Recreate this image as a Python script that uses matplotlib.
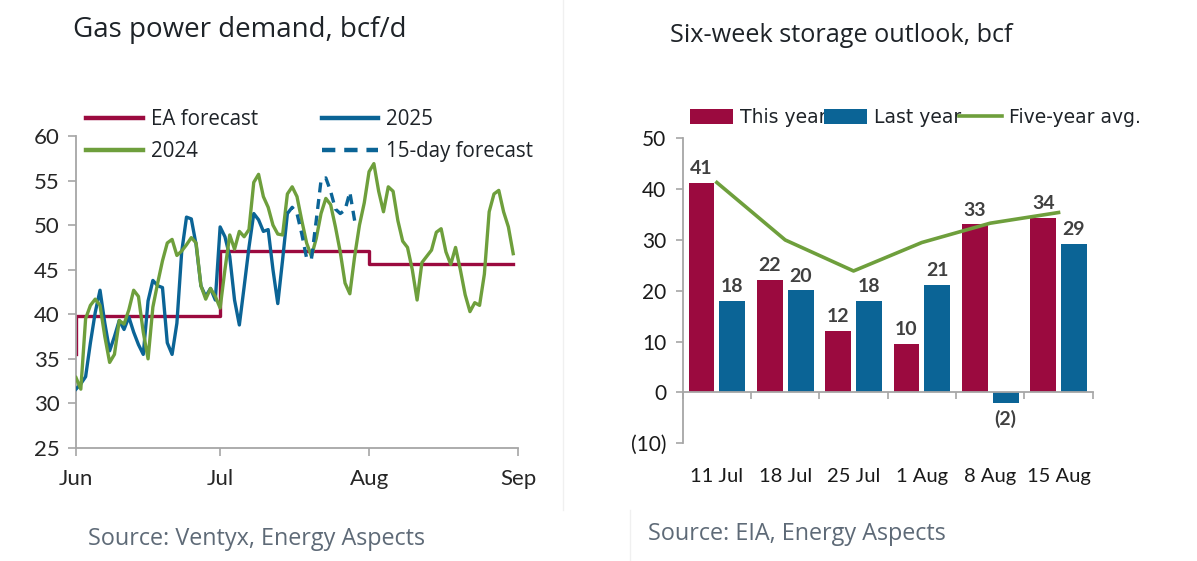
import matplotlib
matplotlib.use("Agg")
import matplotlib.pyplot as plt
import matplotlib.dates as mdates
import matplotlib.transforms as mtransforms
from matplotlib.ticker import FuncFormatter, FixedLocator
import numpy as np
import pandas as pd

# ---------------- data: left chart (bcf/d) ----------------
demand_2024 = [
    32.9, 31.6, 39.5, 41.0, 41.7, 41.0, 37.5, 34.6, 35.5, 39.3,
    38.9, 40.5, 42.7, 42.0, 38.0, 35.0, 40.8, 43.5, 46.0, 48.0,
    48.4, 46.6, 47.1, 47.8, 48.6, 48.0, 43.2, 41.7, 42.9, 42.0,
    40.7, 45.0, 48.9, 47.3, 49.3, 48.7, 49.5, 54.8, 55.7, 53.2,
    52.0, 50.0, 49.0, 48.9, 53.5, 54.3, 53.2, 50.5, 48.0, 46.5,
    48.5, 51.3, 53.0, 52.3, 49.8, 47.0, 43.5, 42.3, 46.5, 50.0,
    52.5, 56.0, 56.9, 53.8, 51.5, 54.3, 53.8, 50.5, 48.2, 47.5,
    45.0, 41.6, 45.8, 46.5, 47.2, 49.2, 49.6, 47.0, 45.6, 47.5,
    45.0, 42.2, 40.3, 41.3, 41.0, 44.5, 51.5, 53.5, 53.9, 51.5,
    49.8, 46.8,
]
demand_2025 = [
    31.6, 32.2, 33.0, 36.8, 40.2, 42.7, 39.0, 35.9, 37.5, 39.3,
    38.3, 39.7, 38.0, 36.6, 35.5, 41.5, 43.8, 43.2, 43.0, 36.8,
    35.5, 39.0, 47.0, 50.9, 50.7, 47.8, 43.2, 42.0, 42.9, 41.6,
    49.8, 48.7, 46.5, 41.6, 38.8, 43.1, 47.5, 51.3, 50.6, 49.3,
    49.5, 45.0, 41.2, 46.1, 51.3,
]
forecast_15day = [
    51.3, 52.0, 51.3, 49.0, 46.3, 46.2, 50.5, 55.0, 55.3, 53.8,
    51.8, 51.3, 51.7, 53.7, 50.5,
]
forecast_start = "2025-07-15"
ea_dates = ["2025-06-01", "2025-06-01", "2025-07-01", "2025-08-01", "2025-08-31"]
ea_values = [35.5, 39.8, 47.1, 45.6, 45.6]
left_yticks = [25, 30, 35, 40, 45, 50, 55, 60]

# ---------------- data: right chart (bcf) ----------------
weeks = ["11 Jul", "18 Jul", "25 Jul", "1 Aug", "8 Aug", "15 Aug"]
this_year = [41.2, 22.2, 12.1, 9.6, 33.1, 34.4]
last_year = [18.0, 20.1, 18.0, 21.2, -2.0, 29.3]
five_year_avg = [41.3, 30.0, 23.9, 29.5, 33.3, 35.4]
right_yticks = [-10, 0, 10, 20, 30, 40, 50]

# ---------------- style ----------------
RED = "#9B0A3F"
BLUE = "#0B6496"
GREEN = "#6E9F3C"
AXIS = "#A6A6A6"
TXT = "#1E2328"
SRC = "#5E6A77"
NARROW = ["Lato", "DejaVu Sans"]
SANS = ["Open Sans", "DejaVu Sans"]

W, H = 1197, 561
fig = plt.figure(figsize=(W / 100, H / 100), dpi=100)


def fx(px):
    return px / W


def fy(py):
    return 1 - py / H


# ---------------- left chart ----------------
ax1 = fig.add_axes([fx(76), fy(448), fx(518 - 76), (448 - 136) / H])
d24 = pd.date_range("2025-06-01", periods=len(demand_2024))
d25 = pd.date_range("2025-06-01", periods=len(demand_2025))
dfc = pd.date_range(forecast_start, periods=len(forecast_15day))

l_ea, = ax1.plot(pd.to_datetime(ea_dates), ea_values, color=RED, lw=2.4,
                 drawstyle="steps-post", label="EA forecast", zorder=2)
l_25, = ax1.plot(d25, demand_2025, color=BLUE, lw=2.4, label="2025", zorder=3)
l_24, = ax1.plot(d24, demand_2024, color=GREEN, lw=2.4, label="2024", zorder=4)
l_fc, = ax1.plot(dfc, forecast_15day, color=BLUE, lw=2.4, ls=(0, (3, 2)),
                 label="15-day forecast", zorder=5)

ax1.set_xlim(pd.Timestamp("2025-06-01"), pd.Timestamp("2025-09-01"))
ax1.set_ylim(25, 60)
ax1.set_yticks(left_yticks)
ax1.xaxis.set_major_locator(mdates.MonthLocator())
ax1.xaxis.set_major_formatter(mdates.DateFormatter("%b"))
for s in ["top", "right"]:
    ax1.spines[s].set_visible(False)
for s in ["left", "bottom"]:
    ax1.spines[s].set_color(AXIS)
    ax1.spines[s].set_linewidth(1.3)
ax1.tick_params(axis="both", color=AXIS, width=1.2, length=6, labelcolor="#262626")
ax1.tick_params(axis="y", pad=6)
ax1.tick_params(axis="x", pad=9)
for lab in ax1.get_xticklabels() + ax1.get_yticklabels():
    lab.set_family(NARROW)
    lab.set_fontsize(16)

leg1 = ax1.legend(handles=[l_ea, l_24, l_25, l_fc], ncol=2, frameon=False,
                  loc="upper left", bbox_to_anchor=(fx(86), fy(109)),
                  bbox_transform=fig.transFigure, borderpad=0, borderaxespad=0,
                  handlelength=2.75, handletextpad=0.4, columnspacing=3.1,
                  labelspacing=0.55, prop={"family": SANS, "size": 14.8})
for t in leg1.get_texts():
    t.set_color(TXT)
for h in leg1.get_lines():
    h.set_linewidth(3.2)

fig.text(fx(73), fy(30), "Gas power demand, bcf/d", fontsize=20,
         family=SANS, color=TXT, va="center", ha="left")
fig.text(fx(88), fy(539), "Source: Ventyx, Energy Aspects", fontsize=16.8,
         family=SANS, color=SRC, va="center", ha="left")

# ---------------- right chart ----------------
ax2 = fig.add_axes([fx(682.7), fy(443.3), fx(410), 305 / H])
x = np.arange(len(weeks))
bw = 0.38
off = 0.225
b1 = ax2.bar(x - off, this_year, bw, color=RED, label="This year", zorder=2)
b2 = ax2.bar(x + off, last_year, bw, color=BLUE, label="Last year", zorder=2)
l5, = ax2.plot(x, five_year_avg, color=GREEN, lw=2.6, label="Five-year avg.", zorder=4)

ax2.set_xlim(-0.5, len(weeks) - 0.5)
ax2.set_ylim(-10, 50)
ax2.yaxis.set_major_locator(FixedLocator(right_yticks))
ax2.yaxis.set_major_formatter(FuncFormatter(
    lambda v, p: f"({abs(int(v))})" if v < 0 else f"{int(v)}"))
ax2.xaxis.set_major_locator(FixedLocator(np.arange(len(weeks) + 1) - 0.5))
ax2.xaxis.set_major_formatter(FuncFormatter(lambda v, p: ""))
for s in ["top", "right"]:
    ax2.spines[s].set_visible(False)
ax2.spines["bottom"].set_position(("data", 0))
for s in ["left", "bottom"]:
    ax2.spines[s].set_color(AXIS)
    ax2.spines[s].set_linewidth(1.3)
ax2.tick_params(axis="both", color=AXIS, width=1.2, length=5, labelcolor="#1a1a1a")
ax2.tick_params(axis="y", pad=7)
for lab in ax2.get_yticklabels():
    lab.set_family(NARROW)
    lab.set_fontsize(15)

trans = mtransforms.blended_transform_factory(ax2.transData, ax2.transAxes)
for i, w in enumerate(weeks):
    ax2.text(i, -0.11, w, transform=trans, ha="center", va="center",
             family=NARROW, fontsize=14.5, color="#1a1a1a")


def fmt_label(v):
    r = int(round(v))
    return f"({abs(r)})" if r < 0 else f"{r}"


for bars, vals in [(b1, this_year), (b2, last_year)]:
    for rect, v in zip(bars, vals):
        cx = rect.get_x() + rect.get_width() / 2
        if v >= 0:
            ax2.annotate(fmt_label(v), (cx, v), xytext=(0, 4), textcoords="offset points",
                         ha="center", va="bottom", family=NARROW, fontsize=14,
                         fontweight="bold", color="#404040")
        else:
            ax2.annotate(fmt_label(v), (cx, v), xytext=(0, -5), textcoords="offset points",
                         ha="center", va="top", family=NARROW, fontsize=14,
                         fontweight="bold", color="#404040")

leg2 = ax2.legend(handles=[b1, b2, l5], ncol=3, frameon=False,
                  loc="upper left", bbox_to_anchor=(fx(690), fy(108)),
                  bbox_transform=fig.transFigure, borderpad=0, borderaxespad=0,
                  handlelength=2.3, handleheight=0.8, handletextpad=0.38,
                  columnspacing=-0.15, prop={"family": ["DejaVu Sans"], "size": 13.5})
for t in leg2.get_texts():
    t.set_color(TXT)

fig.text(fx(670), fy(35), "Six-week storage outlook, bcf", fontsize=18.2,
         family=SANS, color=TXT, va="center", ha="left")
fig.text(fx(648), fy(534), "Source: EIA, Energy Aspects", fontsize=16.8,
         family=SANS, color=SRC, va="center", ha="left")

# faint panel separators
fig.add_artist(plt.Line2D([fx(563), fx(563)], [fy(0), fy(510)], color="#F0F0F0", lw=1))
fig.add_artist(plt.Line2D([fx(630), fx(630)], [fy(510), fy(561)], color="#F0F0F0", lw=1))

fig.savefig("out.png", dpi=100)
